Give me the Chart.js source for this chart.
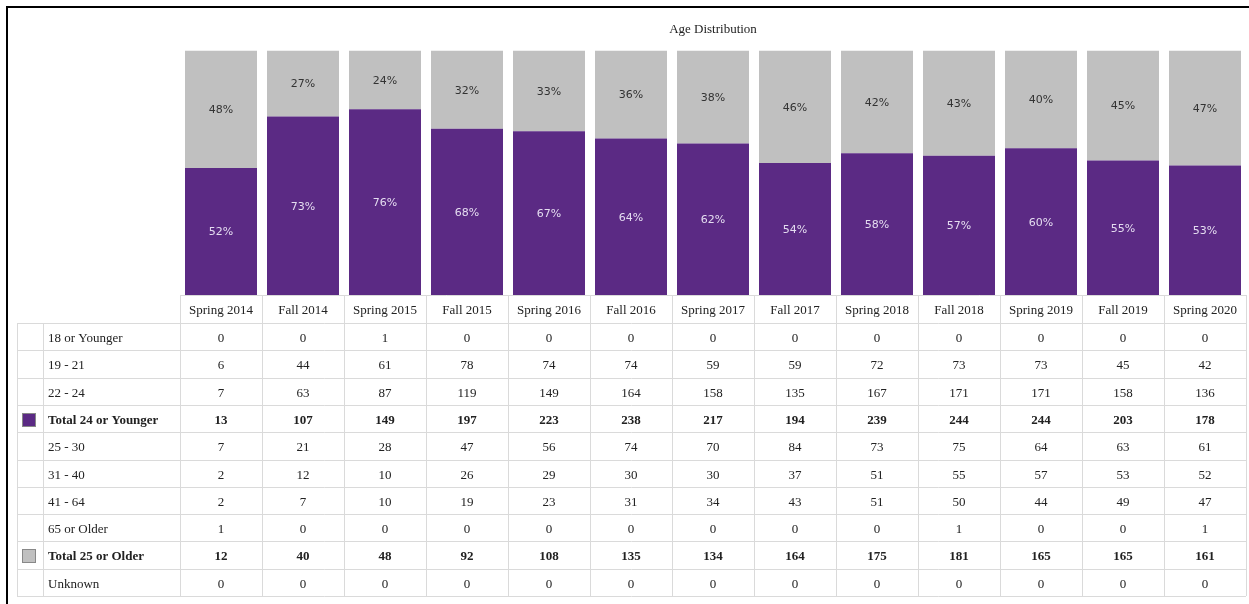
<!DOCTYPE html>
<html>
<head>
<meta charset="utf-8">
<script src="https://cdn.jsdelivr.net/npm/chart.js@4.4.0/dist/chart.umd.min.js"></script>
<style>
  html, body { margin:0; padding:0; background:#fff; overflow:hidden; }
  #frame { position:absolute; left:6px; top:6px; width:1300px; height:700px; border:2px solid #000; }
  #myChart { position:absolute; left:0; top:0; }
</style>
</head>
<body>
<div id="frame"></div>
<canvas id="myChart" width="1249" height="604"></canvas>
<script>
// terms (x categories)
const terms = ['Spring 2014','Fall 2014','Spring 2015','Fall 2015','Spring 2016','Fall 2016',
  'Spring 2017','Fall 2017','Spring 2018','Fall 2018','Spring 2019','Fall 2019','Spring 2020'];

// percentages shown on the bars
const pctYounger = [52,73,76,68,67,64,62,54,58,57,60,55,53];
const pctOlder   = [48,27,24,32,33,36,38,46,42,43,40,45,47];

// table rows
const age18    = [0,0,1,0,0,0,0,0,0,0,0,0,0];
const age19_21 = [6,44,61,78,74,74,59,59,72,73,73,45,42];
const age22_24 = [7,63,87,119,149,164,158,135,167,171,171,158,136];
const total24  = [13,107,149,197,223,238,217,194,239,244,244,203,178];
const age25_30 = [7,21,28,47,56,74,70,84,73,75,64,63,61];
const age31_40 = [2,12,10,26,29,30,30,37,51,55,57,53,52];
const age41_64 = [2,7,10,19,23,31,34,43,51,50,44,49,47];
const age65    = [1,0,0,0,0,0,0,0,0,1,0,0,1];
const total25  = [12,40,48,92,108,135,134,164,175,181,165,165,161];
const unknown  = [0,0,0,0,0,0,0,0,0,0,0,0,0];

const purple = '#5b2a84';
const grey = '#c0c0c0';

const tableRows = [
  {label:'18 or Younger', vals:age18},
  {label:'19 - 21', vals:age19_21},
  {label:'22 - 24', vals:age22_24},
  {label:'Total 24 or Younger', vals:total24, bold:true, swatch:purple},
  {label:'25 - 30', vals:age25_30},
  {label:'31 - 40', vals:age31_40},
  {label:'41 - 64', vals:age41_64},
  {label:'65 or Older', vals:age65},
  {label:'Total 25 or Older', vals:total25, bold:true, swatch:grey},
  {label:'Unknown', vals:unknown}
];

// labels in the middle of every segment
const segLabels = {
  id:'segLabels',
  afterDatasetsDraw(chart){
    const ctx = chart.ctx;
    ctx.save();
    ctx.font = '11px "DejaVu Sans"';
    ctx.textAlign = 'center';
    ctx.textBaseline = 'middle';
    chart.data.datasets.forEach((ds, di) => {
      chart.getDatasetMeta(di).data.forEach((bar, i) => {
        ctx.fillStyle = di === 0 ? '#e4dcf0' : '#333';
        ctx.fillText(ds.data[i] + '%', bar.x, (bar.y + bar.base) / 2 + 1);
      });
    });
    ctx.restore();
  }
};

// data table under the bars, columns from the x scale
const dataTable = {
  id:'dataTable',
  afterDraw(chart){
    const ctx = chart.ctx;
    const xs = chart.scales.x;
    const area = chart.chartArea;
    const colW = (area.right - area.left) / terms.length;
    const top = area.bottom;
    const headH = 28;
    const rowH = 27.3;
    const leftEdge = 17, labelEdge = 43;
    const bodyTop = top + headH;
    const bodyBot = bodyTop + rowH * tableRows.length;

    ctx.save();
    ctx.strokeStyle = '#dadada';
    ctx.lineWidth = 1;
    ctx.beginPath();
    // header lines
    ctx.moveTo(area.left, top + 0.5); ctx.lineTo(area.right, top + 0.5);
    for (let i = 0; i <= terms.length; i++) {
      const x = Math.round(area.left + i * colW) + 0.5;
      ctx.moveTo(x, top); ctx.lineTo(x, bodyBot);
    }
    // body rows
    for (let r = 0; r <= tableRows.length; r++) {
      const y = Math.round(bodyTop + r * rowH) + 0.5;
      ctx.moveTo(leftEdge, y); ctx.lineTo(area.right, y);
    }
    ctx.moveTo(leftEdge + 0.5, bodyTop); ctx.lineTo(leftEdge + 0.5, bodyBot);
    ctx.moveTo(labelEdge + 0.5, bodyTop); ctx.lineTo(labelEdge + 0.5, bodyBot);
    ctx.stroke();

    ctx.fillStyle = '#222';
    ctx.textBaseline = 'middle';
    ctx.textAlign = 'center';
    ctx.font = '13px "Liberation Serif"';
    terms.forEach((t, i) => ctx.fillText(t, xs.getPixelForValue(i), top + headH / 2 + 2));

    tableRows.forEach((row, r) => {
      const cy = bodyTop + r * rowH + rowH / 2 + 2;
      ctx.font = (row.bold ? 'bold ' : '') + '13px "Liberation Serif"';
      ctx.fillStyle = '#222';
      ctx.textAlign = 'left';
      ctx.fillText(row.label, 48, cy);
      ctx.textAlign = 'center';
      row.vals.forEach((v, i) => ctx.fillText(String(v), xs.getPixelForValue(i), cy));
      if (row.swatch) {
        const sy = Math.round(cy - 8);
        ctx.fillStyle = row.swatch;
        ctx.fillRect(22, sy, 14, 14);
        ctx.strokeStyle = '#888';
        ctx.strokeRect(22.5, sy + 0.5, 13, 13);
      }
    });
    ctx.restore();
  }
};

const ctx = document.getElementById('myChart').getContext('2d');

const myChart = new Chart(ctx, {
  type:'bar',
  data:{
    labels:terms,
    datasets:[
      { label:'Total 24 or Younger', data:pctYounger, backgroundColor:purple,
        barPercentage:0.878, categoryPercentage:1 },
      { label:'Total 25 or Older', data:pctOlder, backgroundColor:grey,
        barPercentage:0.878, categoryPercentage:1 }
    ]
  },
  options:{
    responsive:false,
    animation:false,
    layout:{ padding:{ left:180, right:3, top:10, bottom:309 } },
    scales:{
      x:{ stacked:true, display:false },
      y:{ stacked:true, display:false, min:0, max:100 }
    },
    plugins:{
      legend:{ display:false },
      tooltip:{ enabled:false },
      title:{
        display:true,
        text:'Age Distribution',
        color:'#222',
        font:{ family:'"Liberation Serif"', size:13, weight:'normal' },
        padding:{ top:12, bottom:13 }
      }
    }
  },
  plugins:[segLabels, dataTable]
});
</script>
</body>
</html>
